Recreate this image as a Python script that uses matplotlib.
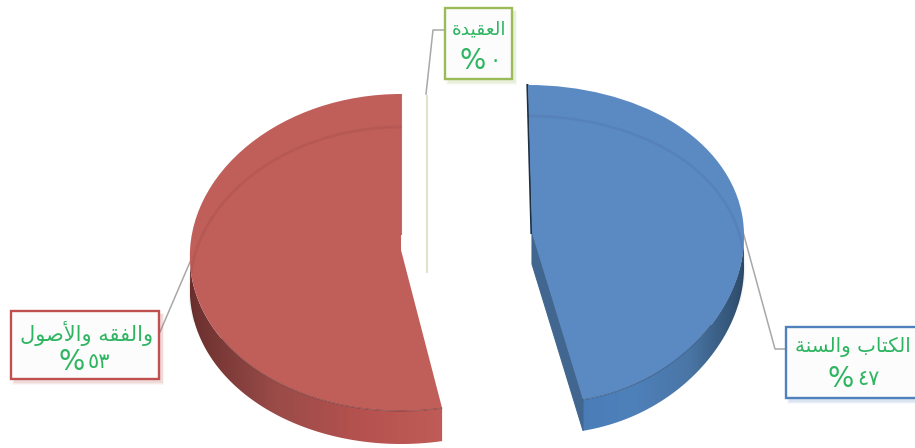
import numpy as np
import matplotlib
matplotlib.use("Agg")
import matplotlib.pyplot as plt
from matplotlib.transforms import Transform
from matplotlib.patches import Polygon, Rectangle
from matplotlib.colors import LinearSegmentedColormap

# ---- data ----
values = [47, 53, 0]
names = ["الكتاب والسنة", "والفقه والأصول", "العقيدة"]
percents = ["٤٧", "٥٣", "٠"]
top_colors = ["#5B8AC3", "#C05E5A", "#9BBB59"]
edge_colors = ["#4F81BD", "#C0504D", "#9BBB59"]
text_color = "#2FB562"

FORMS = {
    "ا": ("\uFE8D", "\uFE8E", None, None), "أ": ("\uFE83", "\uFE84", None, None),
    "د": ("\uFEA9", "\uFEAA", None, None), "و": ("\uFEED", "\uFEEE", None, None),
    "ة": ("\uFE93", "\uFE94", None, None),
    "ب": ("\uFE8F", "\uFE90", "\uFE91", "\uFE92"), "ت": ("\uFE95", "\uFE96", "\uFE97", "\uFE98"),
    "س": ("\uFEB1", "\uFEB2", "\uFEB3", "\uFEB4"), "ص": ("\uFEB9", "\uFEBA", "\uFEBB", "\uFEBC"),
    "ع": ("\uFEC9", "\uFECA", "\uFECB", "\uFECC"), "ف": ("\uFED1", "\uFED2", "\uFED3", "\uFED4"),
    "ق": ("\uFED5", "\uFED6", "\uFED7", "\uFED8"), "ك": ("\uFED9", "\uFEDA", "\uFEDB", "\uFEDC"),
    "ل": ("\uFEDD", "\uFEDE", "\uFEDF", "\uFEE0"), "ن": ("\uFEE5", "\uFEE6", "\uFEE7", "\uFEE8"),
    "ه": ("\uFEE9", "\uFEEA", "\uFEEB", "\uFEEC"), "ي": ("\uFEF1", "\uFEF2", "\uFEF3", "\uFEF4"),
}


def shape(word_text):
    out = []
    for word in word_text.split(" "):
        glyphs, i, prev_joins = [], 0, False
        while i < len(word):
            ch = word[i]
            nxt = word[i + 1] if i + 1 < len(word) else None
            if ch == "ل" and nxt == "أ":
                glyphs.append("\uFEF8" if prev_joins else "\uFEF7")
                prev_joins = False
                i += 2
                continue
            joins_next = FORMS[ch][2] is not None and nxt is not None
            if prev_joins and joins_next:
                g = FORMS[ch][3]
            elif prev_joins:
                g = FORMS[ch][1]
            elif joins_next:
                g = FORMS[ch][2]
            else:
                g = FORMS[ch][0]
            glyphs.append(g)
            prev_joins = joins_next
            i += 1
        out.append("".join(reversed(glyphs)))
    return " ".join(reversed(out))


class Persp(Transform):
    input_dims = 2
    output_dims = 2
    is_separable = False
    has_inverse = False

    def __init__(self, cx, cy, rx, top, bot, k, s, t=0.0, dy=0.0):
        super().__init__()
        self.p = (cx, cy, rx, (top + bot) / 2, (top - bot) / 2, k, s, t, dy)

    def transform_non_affine(self, values):
        cx, cy, rx, a, b, k, s, t, dy = self.p
        values = np.asarray(values, float)
        u, v = values[:, 0], values[:, 1]
        x = cx + rx * u * (1 - k * v) + s * v + t * np.minimum(v, 0) ** 4
        y = cy - v * (a + b * v) + dy
        return np.column_stack([x, y])


fig = plt.figure(figsize=(9.15, 4.48), dpi=100)
ax = fig.add_axes([0, 0, 1, 1])
wedges, _ = ax.pie(values, startangle=90, counterclock=False, radius=1, colors=top_colors)
ax.set_aspect("auto")
ax.set_xlim(0, 915)
ax.set_ylim(448, 0)
ax.axis("off")

depths = [31, 33, 0]
geom = [
    dict(cx=532, cy=233, rx=212, top=148, bot=170, k=0, s=-4, t=8),
    dict(cx=401, cy=250, rx=211, top=156, bot=161, k=0.04, s=0),
    dict(cx=427, cy=273, rx=1, top=178, bot=178, k=0, s=0),
]
wall_cols = [
    ["#4A7DB8", "#4E80BA", "#4A76A6", "#2D4A68"],
    ["#6A302E", "#9A4B48", "#B5524F", "#C05C58"],
]
wall_spans = [(575, 746), (190, 445)]

for i, w in enumerate(wedges):
    tr = Persp(**geom[i])
    w.set_transform(tr + ax.transData)
    w.set_zorder(5)
    w.set_linewidth(0)
    if i == 2:
        w.set_edgecolor("#D5E2BC")
        w.set_linewidth(1.2)
        continue
    th = np.radians(np.linspace(w.theta1, w.theta2, 240))
    rim = np.column_stack([np.cos(th), np.sin(th)])
    front = rim[rim[:, 1] <= 0.02]
    down = Persp(**geom[i], dy=depths[i])
    poly = np.vstack([tr.transform(front), down.transform(front)[::-1]])
    clip = Polygon(poly, closed=True, transform=ax.transData, facecolor="none", edgecolor="none")
    ax.add_patch(clip)
    cmap = LinearSegmentedColormap.from_list("wall", wall_cols[i])
    x0, x1 = wall_spans[i]
    im = ax.imshow(np.linspace(0, 1, 256)[None, :], cmap=cmap, aspect="auto",
                   extent=(x0, x1, 448, 0), zorder=3)
    im.set_clip_path(clip)
    # faint edge of the far rim seen through the top face and of the near rim
    back = rim[rim[:, 1] > -0.25]
    pb = down.transform(back)
    ax.plot(pb[:, 0], pb[:, 1], color="#000000", alpha=0.05, lw=2.0, zorder=6)
    near = rim[rim[:, 1] < -0.55]
    pn = tr.transform(near)
    ax.plot(pn[:, 0], pn[:, 1], color="#000000", alpha=0.28, lw=0.7, zorder=6)

# blue cut face and dark straight edges
tr_blue = Persp(**geom[0])
tr_red = Persp(**geom[1])
dn_blue = Persp(**geom[0], dy=depths[0])
t = np.radians(wedges[0].theta1)
cut = np.array([[0, 0], [np.cos(t), np.sin(t)]])
ax.add_patch(Polygon(np.vstack([tr_blue.transform(cut), dn_blue.transform(cut)[::-1]]),
                     closed=True, facecolor="#41668F", edgecolor="#41668F", lw=0.8, zorder=4))
edge = tr_blue.transform(np.array([[0, 1], [0, 0]]))
ax.plot(edge[:, 0] - 0.6, edge[:, 1], color="#1E2F44", lw=1.5, zorder=4.5)
edge = tr_red.transform(np.array([[0, 1], [0, 0.1]]))
ax.plot(edge[:, 0], edge[:, 1], color="#8A3A3A", alpha=0.7, lw=0.8, zorder=6)

# leader lines
leaders = [
    ([743, 775, 786], [232, 349, 349]),
    ([190, 160], [262, 332]),
    ([426, 433, 445], [94, 30, 30]),
]
for lx, ly in leaders:
    ax.plot(lx, ly, color="#A8A8A8", lw=1.1, zorder=2)

# label boxes
boxes = [(786, 327, 140, 71), (11, 311, 148, 68), (445, 8, 67, 71)]
name_pos = [(853, 347), (87, 334), (479, 29)]
name_size = [14.3, 15, 13.3]
pct_split = [(854, 379), (85, 362), (486, 61)]
for i, (bx, by, bw, bh) in enumerate(boxes):
    for grow, alpha in [(4, 0.05), (2.5, 0.07), (1, 0.10)]:
        ax.add_patch(Rectangle((bx + 3 - grow / 2, by + 4 - grow / 2), bw + grow, bh + grow,
                               facecolor=edge_colors[i], edgecolor="none", alpha=alpha, zorder=7))
    ax.add_patch(Rectangle((bx, by), bw, bh, facecolor="#FCFCFC",
                           edgecolor=edge_colors[i], lw=1.7, zorder=8))
    ax.text(*name_pos[i], shape(names[i]), ha="center", va="center",
            fontsize=name_size[i], color=text_color, family="DejaVu Sans", zorder=9)
    px, py = pct_split[i]
    ax.text(px, py, "%", ha="right", va="center",
            fontsize=20, color=text_color, family="DejaVu Sans", zorder=9)
    ax.text(px + 3, py, percents[i], ha="left", va="center",
            fontsize=15, color=text_color, family="DejaVu Sans", zorder=9)

fig.savefig("out.png", dpi=100, facecolor="white")
